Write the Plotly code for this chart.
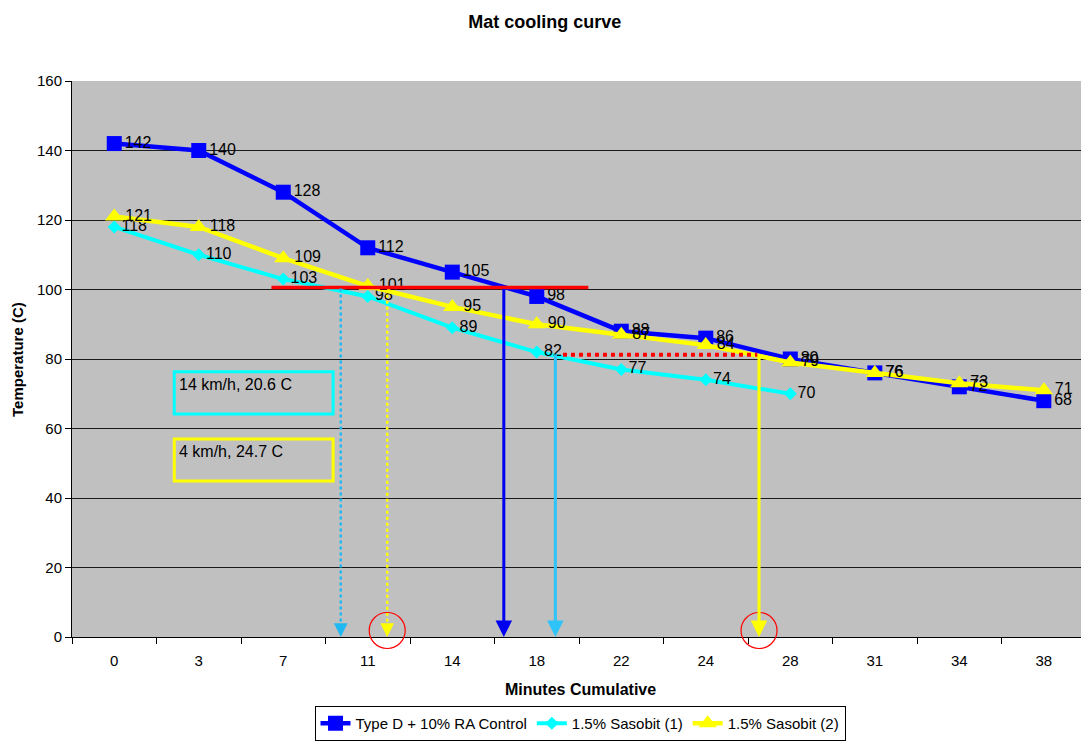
import plotly.graph_objects as go

# Minutes cumulative (categorical axis)
minutes = ["0", "3", "7", "11", "14", "18", "22", "24", "28", "31", "34", "38"]

# Mat temperatures (C)
control = [142, 140, 128, 112, 105, 98, 88, 86, 80, 76, 72, 68]
sasobit_1 = [118, 110, 103, 98, 89, 82, 77, 74, 70]
sasobit_2 = [121, 118, 109, 101, 95, 90, 87, 84, 79, 76, 73, 71]

# Guide lines drawn over the chart (category index, temperature)
compaction_temp = 100.6           # red reference line
red_line_span = [1.86, 5.61]
end_temp = 81.2                   # red dotted reference line
red_dot_span = [5.31, 7.61]
drop_lines = [
    # x index, top temp, colour, dotted
    (2.68, 100.3, "#1FB8F2", True),
    (3.23, 98.5, "#FFFF00", True),
    (4.61, 100.6, "#0000F0", False),
    (5.22, 81.7, "#2EC4F8", False),
    (7.63, 81.0, "#FFFF00", False),
]
circle_marks = [3.23, 7.63]

FONT = "Liberation Sans, Arial, sans-serif"

# Figure geometry (pixels)
W, H = 1081, 742
M_L, M_R, M_T, M_B = 72, 0, 81, 105
plot_w = W - M_L - M_R
plot_h = H - M_T - M_B


def px_x(px):
    return (px - M_L) / plot_w


def px_y(py):
    return (H - M_B - py) / plot_h


fig = go.Figure()

label_font = dict(size=16, color="black", family=FONT)

fig.add_trace(go.Scatter(
    x=minutes, y=control, name="Type D + 10% RA Control",
    mode="lines+markers+text", text=[str(v) for v in control],
    textposition="middle right", textfont=label_font,
    line=dict(color="#0000FF", width=4.5),
    marker=dict(symbol="square", size=15, color="#0000FF"),
    cliponaxis=False,
))
fig.add_trace(go.Scatter(
    x=minutes[:len(sasobit_1)], y=sasobit_1, name="1.5% Sasobit (1)",
    mode="lines+markers+text", text=[str(v) for v in sasobit_1],
    textposition="middle right", textfont=label_font,
    line=dict(color="#00FFFF", width=4),
    marker=dict(symbol="diamond", size=10, color="#00FFFF"),
    cliponaxis=False,
))
fig.add_trace(go.Scatter(
    x=minutes, y=sasobit_2, name="1.5% Sasobit (2)",
    mode="lines+markers+text", text=[str(v) for v in sasobit_2],
    textposition="middle right", textfont=label_font,
    line=dict(color="#FFFF00", width=4.5),
    marker=dict(symbol="triangle-up", size=16, color="#FFFF00"),
    cliponaxis=False,
))

shapes = []
annotations = []

# Red reference lines
shapes.append(dict(type="line", xref="x", yref="y",
                   x0=red_line_span[0], x1=red_line_span[1],
                   y0=compaction_temp, y1=compaction_temp,
                   line=dict(color="#FF0000", width=3.5)))
shapes.append(dict(type="line", xref="x", yref="y",
                   x0=red_dot_span[0], x1=red_dot_span[1],
                   y0=end_temp, y1=end_temp,
                   line=dict(color="#FF0000", width=4, dash="dot")))

# Drop lines with arrowheads down to the time axis
for xi, top, col, dotted in drop_lines:
    if dotted:
        shapes.append(dict(type="line", xref="x", yref="y",
                           x0=xi, x1=xi, y0=top, y1=3.5,
                           line=dict(color=col, width=2.5, dash="dot")))
        tail = 4.0
    else:
        tail = top
    annotations.append(dict(x=xi, y=0, ax=xi, ay=tail, xref="x", yref="y",
                            axref="x", ayref="y", text="", showarrow=True,
                            arrowhead=2, arrowsize=1.1,
                            arrowwidth=3 if not dotted else 2.5,
                            arrowcolor=col, standoff=0))

# Red circles around the arrow tips (paper y so they are not clipped)
for xi in circle_marks:
    shapes.append(dict(type="circle", xref="x", yref="paper",
                       x0=xi - 0.213, x1=xi + 0.213,
                       y0=px_y(648.5), y1=px_y(612.5),
                       line=dict(color="#FF0000", width=1.2)))

# Condition boxes
boxes = [
    ("14 km/h, 20.6 C", "#00FFFF", 76.3, 64.2),
    ("4 km/h, 24.7 C", "#FFFF00", 57.0, 44.9),
]
for label, col, ytop, ybot in boxes:
    shapes.append(dict(type="rect", xref="x", yref="y",
                       x0=0.71, x1=2.59, y0=ybot, y1=ytop,
                       line=dict(color=col, width=3), fillcolor="rgba(0,0,0,0)"))
    annotations.append(dict(x=0.74, y=ytop - 0.6, xref="x", yref="y",
                            text=label, showarrow=False, xanchor="left", yanchor="top",
                            font=dict(size=16, color="black", family=FONT)))

# Axis titles
annotations.append(dict(x=px_x(580), y=px_y(689), xref="paper", yref="paper",
                        text="<b>Minutes Cumulative</b>", showarrow=False,
                        xanchor="center", yanchor="middle",
                        font=dict(size=16, color="black", family=FONT)))
annotations.append(dict(x=px_x(17), y=px_y(360), xref="paper", yref="paper",
                        text="<b>Temperature (C)</b>", showarrow=False, textangle=-90,
                        xanchor="center", yanchor="middle",
                        font=dict(size=15, color="black", family=FONT)))

fig.update_layout(
    width=W, height=H,
    margin=dict(l=M_L, r=M_R, t=M_T, b=M_B, autoexpand=False),
    paper_bgcolor="white", plot_bgcolor="#C0C0C0",
    font=dict(family=FONT, size=15, color="black"),
    title=dict(text="<b>Mat cooling curve</b>", x=0.504, xref="container", xanchor="center",
               y=1 - 22 / H, yref="container", yanchor="middle",
               font=dict(size=18, color="black", family=FONT)),
    showlegend=True,
    legend=dict(orientation="h", x=px_x(580), xanchor="center",
                y=1 - 741 / H, yref="container", yanchor="bottom",
                bordercolor="black", borderwidth=1, bgcolor="white",
                font=dict(size=15, family=FONT), itemwidth=30, tracegroupgap=0),
    shapes=shapes,
    annotations=annotations,
)

fig.update_xaxes(
    type="category", range=[-0.5, 11.44], tickson="boundaries",
    ticks="outside", ticklen=6, tickcolor="black",
    showline=True, linecolor="black", linewidth=1, showgrid=False,
    tickfont=dict(size=15, family=FONT), ticklabelstandoff=10,
)
fig.update_yaxes(
    range=[0, 160], dtick=20, ticks="outside", ticklen=6, tickcolor="black",
    showline=True, linecolor="black", linewidth=1,
    showgrid=True, gridcolor="#1a1a1a", gridwidth=1, zeroline=False,
    tickfont=dict(size=15, family=FONT),
)

fig.write_html("out.html")
